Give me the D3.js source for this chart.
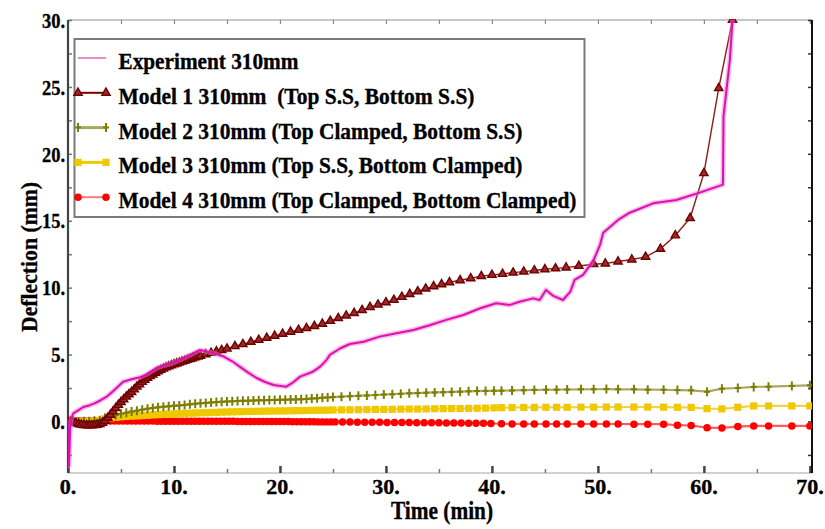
<!DOCTYPE html>
<html>
<head>
<meta charset="utf-8">
<script src="https://cdn.jsdelivr.net/npm/d3@7"></script>
<style>
  html, body { margin: 0; padding: 0; background: #fff; }
  svg { display: block; }
  text { font-family: "Liberation Serif", "Times New Roman", serif; font-weight: bold; fill: #000; stroke: #000; stroke-width: 0.35px; }
</style>
</head>
<body>
<svg id="chart" width="825" height="529"></svg>
<script>
// ---------------- DATA ----------------
const xTicks = [0, 10, 20, 30, 40, 50, 60, 70];
const yTicks = [0, 5, 10, 15, 20, 25, 30];
const xTickLabels = ["0.", "10.", "20.", "30.", "40.", "50.", "60.", "70."];
const yTickLabels = ["0.", "5.", "10.", "15.", "20.", "25.", "30."];
const xTitle = "Time (min)";
const yTitle = "Deflection (mm)";

const seriesNames = [
  "Experiment 310mm",
  "Model 1 310mm  (Top S.S, Bottom S.S)",
  "Model 2 310mm (Top Clamped, Bottom S.S)",
  "Model 3 310mm (Top S.S, Bottom Clamped)",
  "Model 4 310mm (Top Clamped, Bottom Clamped)"
];

// Experiment [time (min), deflection (mm)]
const experiment = [
  [0,0],[0.1,-3.3],[0.2,-0.5],[0.3,0.2],[0.5,0.6],[1,0.85],[1.45,1.08],[2,1.2],[2.5,1.35],[3,1.55],
  [3.65,1.85],[4.3,2.3],[5.2,2.97],[6,3.15],[6.8,3.3],[7.5,3.55],[8.4,4.0],[9.1,4.2],[9.9,4.37],
  [10.7,4.65],[11.5,4.97],[12.45,5.34],[13.4,5.18],[14.7,4.85],[15.5,4.5],[16.2,4.1],[17,3.65],
  [17.8,3.25],[18.6,2.95],[19.4,2.73],[20.6,2.6],[21.2,2.9],[21.9,3.35],[23.1,3.72],[23.8,4.1],
  [24.4,4.6],[24.7,4.97],[25.7,5.47],[26.6,5.79],[27.9,5.96],[29.4,6.34],[31,6.59],[32.6,6.84],
  [34.2,7.21],[35.7,7.59],[37.3,7.96],[38.9,8.46],[40.4,8.83],[41.7,8.71],[42.6,8.95],[43.9,9.2],
  [44.5,9.08],[45.1,9.83],[45.8,9.38],[46.7,9.08],[47.4,9.7],[47.8,10.58],[48.6,10.95],[49.6,12.07],
  [50.2,13.2],[50.5,14.1],[51.9,15.06],[53,15.6],[55.2,16.3],[57.4,16.55],[59.6,17.1],[61.8,17.7],
  [61.85,22.8],[62.45,27],[62.7,30]
];

// Model 1 (Top S.S, Bottom S.S)
const model1 = [
  [0,0],[0.25,0],[0.5,-0.05],[0.75,-0.12],[1,-0.2],[1.25,-0.24],[1.5,-0.27],[1.75,-0.29],[2,-0.3],
  [2.25,-0.3],[2.5,-0.28],[2.75,-0.25],[3,-0.2],[3.25,-0.1],[3.5,0.05],[3.75,0.27],[4,0.5],[4.25,0.75],
  [4.5,1.0],[4.75,1.23],[5,1.45],[5.25,1.65],[5.5,1.85],[5.75,2.03],[6,2.2],[6.25,2.4],[6.5,2.6],
  [6.75,2.78],[7,2.95],[7.25,3.1],[7.5,3.25],[7.75,3.38],[8,3.5],[8.25,3.63],[8.5,3.75],[8.75,3.85],
  [9,3.95],[9.25,4.04],[9.5,4.12],[9.75,4.19],[10,4.26],[10.25,4.33],[10.5,4.4],[10.75,4.47],[11,4.53],
  [11.25,4.6],[11.5,4.66],[11.75,4.72],[12,4.78],[12.25,4.84],[12.5,4.9],[13,5.02],[13.5,5.12],[14,5.23],
  [14.5,5.33],[15,5.44],[15.75,5.62],[16.5,5.78],[17.25,5.95],[18,6.1],[18.75,6.25],[19.5,6.4],
  [20.25,6.55],[21,6.7],[21.75,6.84],[22.5,6.97],[23.25,7.13],[24,7.3],[24.75,7.52],[25.5,7.72],
  [26.25,7.91],[27,8.1],[27.75,8.32],[28.5,8.55],[29.25,8.73],[30,8.9],[30.75,9.08],[31.5,9.3],
  [32.25,9.52],[33,9.72],[33.75,9.93],[34.5,10.1],[35.25,10.25],[36,10.4],[37,10.55],[38,10.7],
  [39,10.86],[40,10.95],[41,11.02],[42,11.12],[43,11.2],[44,11.28],[45,11.37],[46,11.44],[47,11.5],
  [48.2,11.62],[49.6,11.75],[50.7,11.8],[51.9,11.95],[53.2,12.1],[54.5,12.3],[55.9,12.9],[57.3,13.9],
  [58.7,15.2],[60,18.55],[61.4,24.9],[62.7,30]
];

// Model 2 (Top Clamped, Bottom S.S)
const model2 = [
  [0,0],[0.5,0],[1,0],[1.5,0.01],[2,0.02],[2.5,0.05],[3,0.1],[3.5,0.27],[4,0.38],[4.5,0.48],[5,0.58],
  [5.5,0.66],[6,0.74],[6.5,0.81],[7,0.88],[7.5,0.95],[8,1.01],[8.5,1.06],[9,1.1],[9.5,1.13],[10,1.17],
  [10.5,1.2],[11,1.24],[11.5,1.28],[12,1.32],[12.5,1.36],[13,1.39],[13.5,1.42],[14,1.45],[14.5,1.47],
  [15,1.49],[15.5,1.51],[16,1.53],[16.5,1.54],[17,1.55],[17.5,1.57],[18,1.58],[18.5,1.59],[19,1.6],
  [19.5,1.61],[20,1.62],[20.5,1.63],[21,1.64],[21.5,1.65],[22,1.67],[22.5,1.68],[23,1.71],[23.5,1.74],
  [24,1.77],[24.5,1.8],[25,1.82],[25.8,1.85],[26.6,1.89],[27.4,1.92],[28.2,1.95],[29,1.98],[29.8,2.01],
  [30.6,2.04],[31.4,2.07],[32.2,2.1],[33,2.12],[33.8,2.15],[34.6,2.17],[35.4,2.19],[36.2,2.21],[37,2.23],
  [37.8,2.25],[38.6,2.27],[39.4,2.28],[40.2,2.29],[40.9,2.3],[41.9,2.32],[43,2.34],[44,2.36],[45.1,2.37],
  [46.1,2.38],[47.1,2.39],[48.4,2.4],[49.6,2.41],[50.8,2.42],[51.9,2.4],[53.4,2.4],[54.7,2.38],[56.2,2.37],
  [57.5,2.35],[58.8,2.33],[60.3,2.23],[61.7,2.45],[63.2,2.5],[64.7,2.58],[66.1,2.6],[68.3,2.66],[70,2.7]
];

// Model 3 (Top S.S, Bottom Clamped)
const model3 = [
  [0,0],[0.5,0],[1,0],[1.5,0],[2,0],[2.5,0.01],[3,0.08],[3.5,0.2],[4,0.27],[4.5,0.31],[5,0.35],
  [5.5,0.38],[6,0.4],[6.5,0.42],[7,0.44],[7.5,0.46],[8,0.49],[8.5,0.51],[9,0.53],[9.5,0.55],[10,0.56],
  [10.5,0.58],[11,0.6],[11.5,0.62],[12,0.63],[12.5,0.65],[13,0.66],[13.5,0.67],[14,0.68],[14.5,0.7],
  [15,0.71],[15.5,0.72],[16,0.73],[16.5,0.74],[17,0.75],[17.5,0.75],[18,0.76],[18.5,0.77],[19,0.78],
  [19.5,0.78],[20,0.79],[20.5,0.79],[21,0.8],[21.5,0.81],[22,0.81],[22.5,0.82],[23,0.83],[23.5,0.84],
  [24,0.84],[24.5,0.85],[25,0.86],[25.8,0.87],[26.6,0.87],[27.4,0.88],[28.2,0.89],[29,0.9],[29.8,0.9],
  [30.6,0.91],[31.4,0.92],[32.2,0.93],[33,0.93],[33.8,0.94],[34.6,0.95],[35.4,0.96],[36.2,0.97],[37,0.97],
  [37.8,0.98],[38.6,0.99],[39.4,1.0],[40.2,1.02],[40.9,1.03],[41.9,1.04],[43,1.05],[44,1.05],[45.1,1.06],
  [46.1,1.06],[47.1,1.06],[48.4,1.07],[49.6,1.07],[50.8,1.08],[51.9,1.08],[53.4,1.08],[54.7,1.08],
  [56.2,1.07],[57.5,1.06],[58.8,1.05],[60.3,0.96],[61.7,0.94],[63.2,1.06],[64.7,1.16],[66.1,1.16],
  [68.3,1.16],[70,1.16]
];

// Model 4 (Top Clamped, Bottom Clamped)
const model4 = [
  [0,0.03],[0.4,0.03],[0.8,0.03],[1.2,0.03],[1.6,0.03],[2,0.03],[2.4,0.03],[2.8,0.03],[3.2,0.03],
  [3.6,0.03],[4,0.03],[4.4,0.03],[4.8,0.03],[5.2,0.03],[5.6,0.03],[6,0.03],[6.4,0.03],[6.8,0.03],
  [7.2,0.03],[7.6,0.03],[8,0.03],[8.4,0.02],[8.8,0.02],[9.2,0.02],[9.6,0.02],[10,0.02],[10.4,0.02],
  [10.8,0.02],[11.2,0.02],[11.6,0.02],[12,0.01],[12.4,0.01],[12.8,0.01],[13.2,0.01],[13.6,0.01],
  [14,0.01],[14.4,0.01],[14.8,0.01],[15.2,0.01],[15.6,0.01],[16,0],[16.4,0],[16.8,0],[17.2,0],
  [17.6,0],[18,0],[18.4,0],[18.8,0],[19.2,0],[19.6,0],[20,-0.01],[20.4,-0.01],[20.8,-0.01],[21.2,-0.02],
  [21.6,-0.02],[22,-0.02],[22.4,-0.02],[22.8,-0.02],[23.2,-0.02],[23.6,-0.03],[24,-0.03],[24.4,-0.03],
  [24.8,-0.03],[25.2,-0.03],[25.9,-0.04],[26.6,-0.04],[27.3,-0.05],[28,-0.05],[28.7,-0.06],[29.4,-0.06],
  [30.1,-0.07],[30.8,-0.07],[31.5,-0.08],[32.2,-0.08],[32.9,-0.09],[33.6,-0.09],[34.3,-0.1],[35,-0.1],
  [35.7,-0.11],[36.4,-0.11],[37.1,-0.12],[37.8,-0.13],[38.5,-0.13],[39.2,-0.14],[39.9,-0.15],
  [40.9,-0.17],[41.9,-0.18],[43,-0.18],[44,-0.19],[45.1,-0.19],[46.1,-0.19],[47.1,-0.19],[48.4,-0.19],
  [49.6,-0.19],[50.8,-0.19],[51.9,-0.19],[53.4,-0.2],[54.7,-0.2],[56.2,-0.2],[57.5,-0.28],[58.8,-0.3],
  [60.3,-0.46],[61.7,-0.48],[63.2,-0.38],[64.7,-0.33],[66.1,-0.33],[68.3,-0.33],[70,-0.33]
];

// ---------------- DRAWING ----------------
const svg = d3.select("#chart");
const L = 68, R = 812, T = 20, B = 473;

const x = d3.scaleLinear().domain([0, 70.2]).range([L, R]);
const y = d3.scaleLinear().domain([-3.85, 30]).range([B, T]);

// frame lines
svg.append("line").attr("x1", L).attr("x2", R).attr("y1", T).attr("y2", T)
  .attr("stroke", "#c8c8c8").attr("stroke-width", 2);
svg.append("line").attr("x1", L).attr("x2", R).attr("y1", B).attr("y2", B)
  .attr("stroke", "#d2d2d2").attr("stroke-width", 2);

const xMinor = d3.range(0, 71, 5);
const yMinor = [-2.5].concat(d3.range(0, 30.1, 2.5));

const bottomAxis = d3.axisTop(x).tickValues(xMinor).tickSize(5).tickFormat("");
const gB = svg.append("g").attr("transform", `translate(0,${B})`).call(bottomAxis);
gB.select(".domain").remove();
gB.selectAll(".tick line").attr("stroke", d => d % 10 === 0 ? "#444" : "#777")
  .attr("stroke-width", d => d % 10 === 0 ? 2.5 : 1.5)
  .attr("y2", d => d % 10 === 0 ? -7 : -4);

const topAxis = d3.axisBottom(x).tickValues(xMinor).tickSize(4).tickFormat("");
const gT = svg.append("g").attr("transform", `translate(0,${T})`).call(topAxis);
gT.select(".domain").remove();
gT.selectAll(".tick line").attr("stroke", "#888").attr("stroke-width", 1.2);

const leftAxis = d3.axisRight(y).tickValues(yMinor).tickSize(4).tickFormat("");
const gL = svg.append("g").attr("transform", `translate(${L},0)`).call(leftAxis);
gL.select(".domain").remove();
gL.selectAll(".tick line").attr("stroke", "#777").attr("stroke-width", 1.5);

const rightAxis = d3.axisLeft(y).tickValues(yMinor).tickSize(4).tickFormat("");
const gR = svg.append("g").attr("transform", `translate(${R},0)`).call(rightAxis);
gR.select(".domain").remove();
gR.selectAll(".tick line").attr("stroke", "#333").attr("stroke-width", 1.5);

svg.append("line").attr("x1", L).attr("x2", L).attr("y1", T).attr("y2", B)
  .attr("stroke", "#444").attr("stroke-width", 2.2);
svg.append("line").attr("x1", R).attr("x2", R).attr("y1", T).attr("y2", B)
  .attr("stroke", "#111").attr("stroke-width", 2);

// tick labels
svg.append("g").selectAll("text").data(xTicks).join("text")
  .attr("x", d => x(d)).attr("y", 494)
  .attr("text-anchor", "middle").attr("font-size", 22)
  .text((d, i) => xTickLabels[i]);

svg.append("g").selectAll("text").data(yTicks).join("text")
  .attr("transform", d => `translate(65,${y(d)}) scale(0.84,1)`)
  .attr("dy", "0.35em")
  .attr("text-anchor", "end").attr("font-size", 22)
  .text((d, i) => yTickLabels[i]);

// axis titles
svg.append("text").attr("x", 442).attr("y", 519).attr("text-anchor", "middle")
  .attr("font-size", 25).attr("textLength", 102).attr("lengthAdjust", "spacingAndGlyphs")
  .text(xTitle);
svg.append("text").attr("transform", "translate(37,257) rotate(-90)").attr("text-anchor", "middle")
  .attr("font-size", 23).attr("textLength", 150).attr("lengthAdjust", "spacingAndGlyphs")
  .text(yTitle);

// clip
svg.append("clipPath").attr("id", "clip").append("rect")
  .attr("x", L).attr("y", T - 1).attr("width", R - L).attr("height", B - T + 1);

const plot = svg.append("g").attr("clip-path", "url(#clip)");
const line = d3.line().x(d => x(d[0])).y(d => y(d[1]));

// marker symbols
const triPath = d3.symbol().type(d3.symbolTriangle).size(30)();
const crossPath = "M-3,0H3M0,-4.5V4.5";
const circPath = d3.symbol().type(d3.symbolCircle).size(44)();
const sqPath = "M-3.6,-3.6H3.6V3.6H-3.6Z";
function styleMarker(sel, kind) {
  if (kind === "tri") sel.attr("d", triPath).attr("fill", "#9a2a2a").attr("stroke", "#700000").attr("stroke-width", 1.4);
  if (kind === "cross") sel.attr("d", crossPath).attr("fill", "none").attr("stroke", "#7d7d00").attr("stroke-width", 2);
  if (kind === "sq") sel.attr("d", sqPath).attr("fill", "#f0c800").attr("stroke", "none");
  if (kind === "circ") sel.attr("d", circPath).attr("fill", "#ff0000").attr("stroke", "none");
}
function drawMarkers(g, data, kind) {
  const sel = g.append("g").selectAll("path").data(data).join("path")
    .attr("transform", d => `translate(${x(d[0])},${y(d[1])})`);
  styleMarker(sel, kind);
}

// Model 4
plot.append("path").datum(model4).attr("d", line).attr("fill", "none").attr("stroke", "#ff5a5a").attr("stroke-width", 2.2);
drawMarkers(plot, model4, "circ");
// Model 3
plot.append("path").datum(model3).attr("d", line).attr("fill", "none").attr("stroke", "#f2d24a").attr("stroke-width", 2.2);
drawMarkers(plot, model3, "sq");
// Model 2
plot.append("path").datum(model2).attr("d", line).attr("fill", "none").attr("stroke", "#a8a860").attr("stroke-width", 2.2);
drawMarkers(plot, model2, "cross");
// Model 1
plot.append("path").datum(model1).attr("d", line).attr("fill", "none").attr("stroke", "#8a2020").attr("stroke-width", 1.4);
drawMarkers(plot, model1, "tri");
// Experiment (halo + core)
plot.append("path").datum(experiment).attr("d", line).attr("fill", "none")
  .attr("stroke", "#f07ad0").attr("stroke-width", 5).attr("stroke-opacity", 0.5).attr("stroke-linejoin", "round");
plot.append("path").datum(experiment).attr("d", line).attr("fill", "none")
  .attr("stroke", "#dd10b0").attr("stroke-width", 2).attr("stroke-linejoin", "round");

// ---------------- LEGEND ----------------
const lg = svg.append("g");
lg.append("rect").attr("x", 74.5).attr("y", 39).attr("width", 510).attr("height", 178)
  .attr("fill", "#fff").attr("stroke", "#7a7a7a").attr("stroke-width", 2);

const legendLens = [180, 356, 404, 404, 458];
const legendStyles = [
  { stroke: "#f088cc", w: 2, kind: null },
  { stroke: "#7a0000", w: 2, kind: "tri" },
  { stroke: "#a8a860", w: 3, kind: "cross" },
  { stroke: "#f0c800", w: 3, kind: "sq" },
  { stroke: "#ff7a7a", w: 2, kind: "circ" }
];
seriesNames.forEach((name, i) => {
  const base = 69 + i * 34.8;
  const cy = base - 11;
  const st = legendStyles[i];
  lg.append("line").attr("x1", 78).attr("x2", 106).attr("y1", cy).attr("y2", cy)
    .attr("stroke", st.stroke).attr("stroke-width", st.w);
  if (st.kind) {
    const ms = lg.append("g").selectAll("path").data([78, 106]).join("path")
      .attr("transform", d => `translate(${d},${cy})`);
    styleMarker(ms, st.kind);
  }
  lg.append("text").attr("x", 118.5).attr("y", base).attr("font-size", 24)
    .style("white-space", "pre")
    .attr("textLength", legendLens[i]).attr("lengthAdjust", "spacingAndGlyphs")
    .text(name);
});
</script>
</body>
</html>
